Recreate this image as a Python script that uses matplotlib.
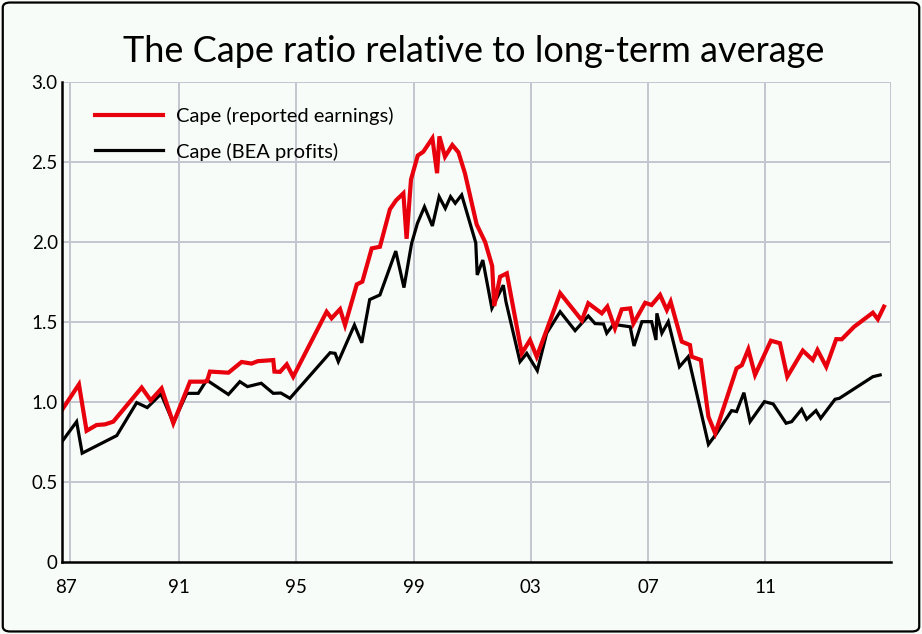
import matplotlib
matplotlib.use("Agg")
import matplotlib.pyplot as plt
from matplotlib.patches import FancyBboxPatch

# values (decimal years, ratio to long-term average)
red_x = [1987.0, 1987.58, 1987.84, 1988.18, 1988.47, 1988.75, 1989.72, 1990.03, 1990.40, 1990.80,
         1991.37, 1991.82, 1991.95, 1992.05, 1992.68, 1993.13, 1993.47, 1993.68, 1994.21, 1994.25,
         1994.44, 1994.67, 1994.89, 1996.03, 1996.2, 1996.49, 1996.66, 1997.06, 1997.25, 1997.57,
         1997.85, 1998.19, 1998.4, 1998.65, 1998.76, 1998.91, 1999.14, 1999.33, 1999.64, 1999.8,
         1999.88, 2000.07, 2000.32, 2000.53, 2000.75, 2001.15, 2001.44, 2001.68, 2001.75, 2001.95,
         2002.18, 2002.69, 2002.97, 2003.2, 2003.54, 2004.0, 2004.74, 2004.96, 2005.42, 2005.61,
         2005.87, 2006.1, 2006.39, 2006.5, 2006.9, 2007.12, 2007.41, 2007.64, 2007.77, 2008.15,
         2008.43, 2008.49, 2008.8, 2009.06, 2009.29, 2010.02, 2010.2, 2010.42, 2010.65, 2011.19,
         2011.5, 2011.75, 2012.28, 2012.62, 2012.78, 2013.08, 2013.42, 2013.61, 2014.03, 2014.67,
         2014.84, 2015.05]
red_y = [0.95, 1.11, 0.82, 0.856, 0.86, 0.877, 1.09, 1.01, 1.085, 0.867,
         1.127, 1.127, 1.13, 1.19, 1.183, 1.25, 1.24, 1.255, 1.262, 1.19,
         1.188, 1.235, 1.158, 1.564, 1.523, 1.58, 1.48, 1.735, 1.752, 1.96,
         1.97, 2.204, 2.26, 2.304, 2.02, 2.39, 2.54, 2.564, 2.648, 2.43,
         2.66, 2.533, 2.606, 2.56, 2.43, 2.11, 2.0, 1.85, 1.6, 1.783,
         1.804, 1.304, 1.387, 1.283, 1.45, 1.68, 1.51, 1.617, 1.554, 1.596,
         1.46, 1.579, 1.585, 1.49, 1.62, 1.606, 1.669, 1.575, 1.627, 1.377,
         1.356, 1.283, 1.2625, 0.908, 0.804, 1.21, 1.23, 1.329, 1.169, 1.383,
         1.367, 1.158, 1.321, 1.2625, 1.325, 1.22, 1.393, 1.392, 1.47, 1.558,
         1.517, 1.596]

blk_x = [1987.0, 1987.5, 1987.69, 1988.87, 1989.55, 1989.91, 1990.38, 1990.8, 1991.26, 1991.65,
         1991.94, 1992.68, 1993.07, 1993.33, 1993.8, 1994.21, 1994.47, 1994.78, 1996.15, 1996.32,
         1996.43, 1996.98, 1997.23, 1997.5, 1997.85, 1998.39, 1998.67, 1998.93, 1999.13, 1999.37,
         1999.64, 1999.87, 2000.08, 2000.26, 2000.42, 2000.64, 2001.12, 2001.17, 2001.36, 2001.67,
         2002.06, 2002.15, 2002.63, 2002.86, 2003.22, 2003.54, 2004.0, 2004.51, 2004.96, 2005.19,
         2005.48, 2005.59, 2005.82, 2006.39, 2006.52, 2006.79, 2007.12, 2007.27, 2007.3, 2007.47,
         2007.69, 2008.07, 2008.37, 2009.06, 2009.34, 2009.85, 2010.02, 2010.27, 2010.48, 2010.97,
         2011.27, 2011.71, 2011.9, 2012.24, 2012.41, 2012.73, 2012.89, 2013.38, 2013.53, 2014.67,
         2014.92]
blk_y = [0.752, 0.877, 0.68, 0.79, 0.996, 0.965, 1.05, 0.87, 1.054, 1.054,
         1.137, 1.047, 1.127, 1.096, 1.117, 1.054, 1.056, 1.023, 1.308, 1.304,
         1.252, 1.481, 1.37, 1.64, 1.669, 1.943, 1.715, 1.99, 2.117, 2.22,
         2.10, 2.283, 2.21, 2.283, 2.242, 2.294, 1.995, 1.794, 1.887, 1.586,
         1.73, 1.627, 1.252, 1.304, 1.196, 1.43, 1.564, 1.446, 1.5375, 1.49,
         1.4875, 1.43, 1.485, 1.47, 1.35, 1.502, 1.502, 1.3875, 1.554, 1.43,
         1.502, 1.22, 1.283, 0.735, 0.804, 0.946, 0.94, 1.058, 0.877, 1.002,
         0.9875, 0.867, 0.877, 0.954, 0.892, 0.946, 0.898, 1.017, 1.023, 1.158,
         1.169]

x_labels = ["87", "91", "95", "99", "03", "07", "11"]
x_label_pos = [1987.14, 1991, 1995, 1999, 2003, 2007, 2011]
x_grid = [1987.27, 1991, 1995, 1999, 2003, 2007, 2011, 2015.29]
y_ticks = [0, 0.5, 1.0, 1.5, 2.0, 2.5, 3.0]
y_labels = ["0", "0.5", "1.0", "1.5", "2.0", "2.5", "3.0"]

bg = "#f8fcf9"
red = "#e8000c"
grid_col = "#c3c6ce"

plt.rcParams["font.family"] = ["Lato", "DejaVu Sans"]

fig = plt.figure(figsize=(9.22, 6.34), dpi=100, facecolor=bg)
# rounded frame round the whole chart
fig.patches.append(FancyBboxPatch((0.003, 0.004), 0.994, 0.992, boxstyle="round,pad=0,rounding_size=0.008",
                                  transform=fig.transFigure, facecolor=bg, edgecolor="black",
                                  linewidth=1.6, zorder=-1))

ax = fig.add_axes([0.0672, 0.1136, 0.8992, 0.7571])
ax.set_facecolor(bg)
ax.patch.set_alpha(0)

for g in x_grid:
    ax.axvline(g, color=grid_col, lw=1.4, zorder=1)
for t in y_ticks[1:]:
    ax.axhline(t, color=grid_col, lw=1.4, zorder=1)

ax.plot(blk_x, blk_y, color="black", lw=2.3, solid_joinstyle="miter", zorder=3, label="Cape (BEA profits)")
ax.plot(red_x, red_y, color=red, lw=3.0, solid_joinstyle="miter", zorder=4, label="Cape (reported earnings)")

ax.set_xlim(1987.0, 2015.29)
ax.set_ylim(0, 3.0)
ax.set_xticks(x_label_pos)
ax.set_xticklabels(x_labels)
ax.set_yticks(y_ticks)
ax.set_yticklabels(y_labels)
ax.tick_params(axis="both", length=0, labelsize=13.5, colors="black")
ax.tick_params(axis="x", pad=12)
ax.tick_params(axis="y", pad=3)

for s in ["top", "right"]:
    ax.spines[s].set_visible(False)
for s in ["left", "bottom"]:
    ax.spines[s].set_linewidth(1.8)
    ax.spines[s].set_zorder(5)

# legend: red first, as in the original
h, l = ax.get_legend_handles_labels()
leg = ax.legend(h[::-1], l[::-1], loc="upper left", bbox_to_anchor=(0.018, 0.985), frameon=False,
                fontsize=14.5, handlelength=3.4, handletextpad=0.6, labelspacing=0.85)

fig.text(0.514, 0.902, "The Cape ratio relative to long-term average", ha="center", va="baseline",
         fontsize=26, color="black")

fig.savefig("out.png", dpi=100, facecolor=bg)
